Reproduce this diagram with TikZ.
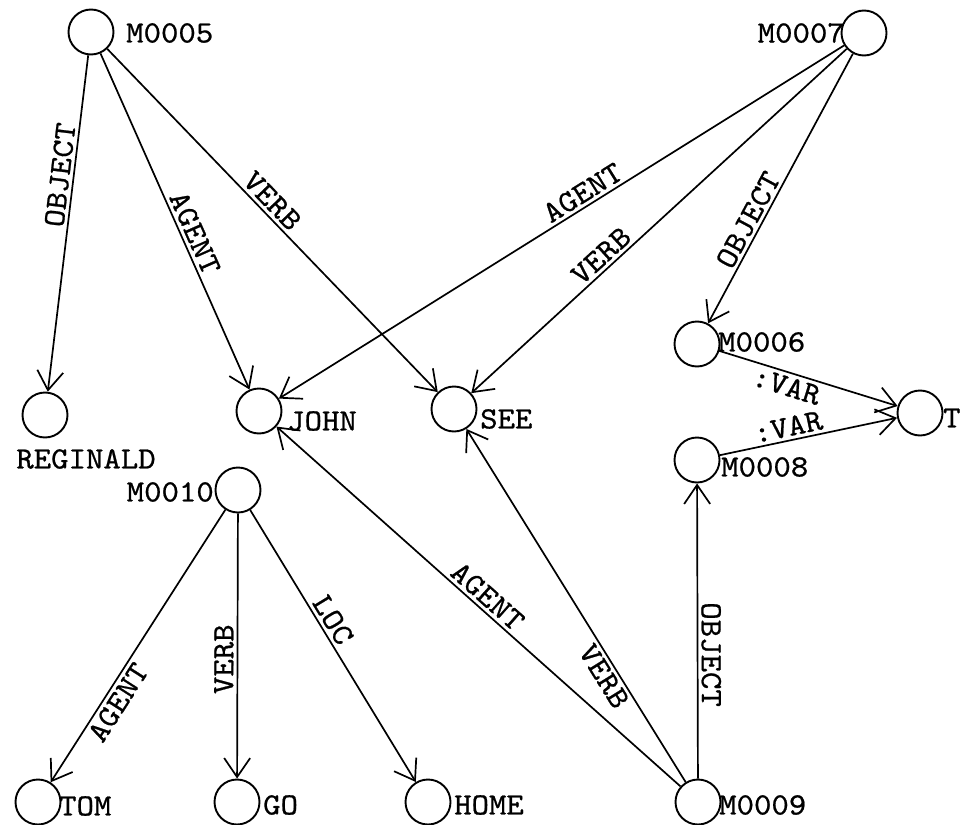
\documentclass[tikz,border=0pt]{standalone}
\usepackage{fontspec}
\newfontfamily\twfont{lmmono10-regular}[Extension=.otf, FakeBold=0.7, FakeStretch=1.07]
\usetikzlibrary{arrows.meta}
\begin{document}
\begin{tikzpicture}[x=1pt,y=-1pt,
  nd/.style={circle, draw, line width=1.9pt, minimum size=45pt, inner sep=0pt},
  lab/.style={font=\twfont\fontsize{31}{34}\selectfont, inner sep=0pt},
  edge/.style={line width=1.7pt, -{Straight Barb[length=19pt,width=26pt]}},
  elab/.style={font=\twfont\fontsize{31}{34}\selectfont, inner sep=3pt, sloped}
]
\fill[white] (0,0) rectangle (963,824);
\useasboundingbox (0,0) rectangle (963,824);
% nodes
\node[nd] (m5) at (91,32) {};
\node[nd] (m7) at (864,33) {};
\node[nd] (reg) at (45,415) {};
\node[nd] (john) at (259,411) {};
\node[nd] (see) at (454,409) {};
\node[nd] (m6) at (697,344) {};
\node[nd] (t) at (920,413) {};
\node[nd] (m8) at (697,460) {};
\node[nd] (m10) at (238,490) {};
\node[nd] (tom) at (38,802) {};
\node[nd] (go) at (237,802) {};
\node[nd] (home) at (428,802) {};
\node[nd] (m9) at (698,802) {};
% labels
\node[lab, anchor=west] (m5l) at (126,33) {M0005};
\node[lab, anchor=east] (m7l) at (845,33) {M0007};
\node[lab] (regl) at (86,459) {REGINALD};
\node[lab, anchor=west] (johnl) at (287,421) {JOHN};
\node[lab, anchor=west] (seel) at (480,419) {SEE};
\node[lab, anchor=west] (m6l) at (718,342) {M0006};
\node[lab, anchor=west] (tl) at (943,418) {T};
\node[lab, anchor=west] (m8l) at (721,467) {M0008};
\node[lab, anchor=east] (m10l) at (214,492) {M0010};
\node[lab, anchor=west] (toml) at (59,806) {TOM};
\node[lab, anchor=west] (gol) at (263,805) {GO};
\node[lab, anchor=west] (homel) at (454,805) {HOME};
\node[lab, anchor=west] (m9l) at (719,805) {M0009};
% edges
\draw[edge] (m5) -- node[elab, pos=.36, above] {OBJECT} (reg);
\draw[edge] (m5) -- node[elab, pos=.55, above] {AGENT} (john);
\draw[edge] (m5) -- node[elab, pos=.47, above] {VERB} (see);
\draw[edge] (m7) -- node[elab, pos=.45, above] {AGENT} (john);
\draw[edge] (m7) -- node[elab, pos=.63, above] {VERB} (see);
\draw[edge] (m7) -- node[elab, pos=.64, above] {OBJECT} (m6);
\draw[edge] (m6) -- node[elab, pos=.4, below] {:VAR} (t);
\draw[edge] (m8) -- node[elab, pos=.4, above] {:VAR} (t);
\draw[edge] (m10) -- node[elab, pos=.68, below] {AGENT} (tom);
\draw[edge] (m10) -- node[elab, pos=.55, above] {VERB} (go);
\draw[edge] (m10) -- node[elab, pos=.43, above] {LOC} (home);
\draw[edge] (m9) -- node[elab, pos=.5, above] {AGENT} (john);
\draw[edge] (m9) -- node[elab, pos=.32, below] {VERB} (see);
\draw[edge] (m9) -- node[elab, pos=.42, above] {OBJECT} (m8);
\end{tikzpicture}
\end{document}
